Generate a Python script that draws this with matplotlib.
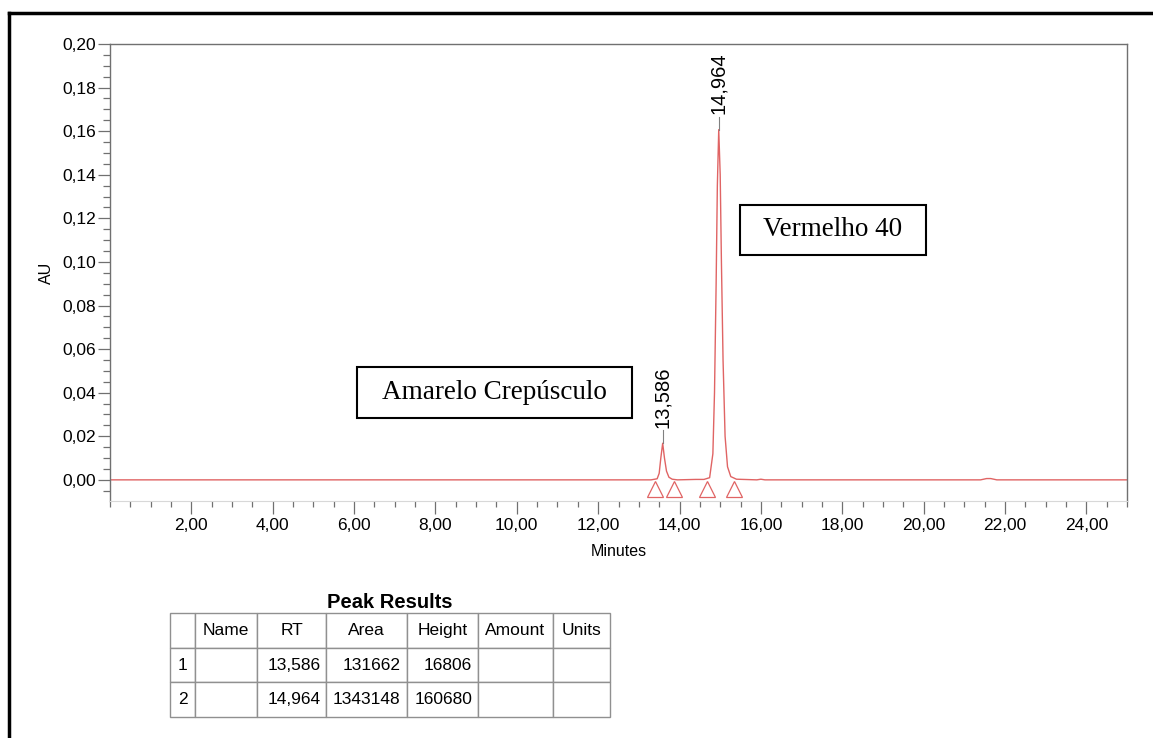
import matplotlib.pyplot as plt
import matplotlib.ticker as ticker
from matplotlib.patches import Rectangle
from matplotlib.lines import Line2D

plt.rcParams['font.family'] = ['Liberation Sans', 'DejaVu Sans']

# chromatogram trace (minutes, AU)
minutes = [0.0, 13.30, 13.45, 13.50, 13.54, 13.586, 13.63, 13.68, 13.74, 13.82, 13.95,
           14.40, 14.60, 14.74, 14.82, 14.86, 14.90, 14.93, 14.964, 15.00, 15.03, 15.07,
           15.12, 15.18, 15.26, 15.40, 15.90, 16.00, 16.10, 21.40, 21.55, 21.65, 21.80, 25.0]
au = [0.0, 0.0, 0.0005, 0.003, 0.010, 0.0168, 0.010, 0.004, 0.0012, 0.0003, 0.0,
      0.0002, 0.0002, 0.001, 0.012, 0.040, 0.090, 0.135, 0.1607, 0.140, 0.100, 0.055,
      0.020, 0.006, 0.0015, 0.0003, 0.0, 0.0003, 0.0, 0.0, 0.0006, 0.0006, 0.0, 0.0]

# peak marks
peak_rt = [13.586, 14.964]
peak_height = [0.0168, 0.1607]
peak_labels = ["13,586", "14,964"]
# integration start/end markers
marker_rt = [13.39, 13.86, 14.68, 15.33]

# peak results table
col_labels = ["", "Name", "RT", "Area", "Height", "Amount", "Units"]
rows = [["1", "", "13,586", "131662", "16806", "", ""],
        ["2", "", "14,964", "1343148", "160680", "", ""]]

W, H = 1153, 738
fig = plt.figure(figsize=(W / 100, H / 100), dpi=100)

# outer frame (left and top only visible)
fig.add_artist(Line2D([9 / W, 9 / W], [0, 1 - 13 / H], color='black', lw=2.5, transform=fig.transFigure))
fig.add_artist(Line2D([9 / W, 1], [1 - 13 / H, 1 - 13 / H], color='black', lw=2.5, transform=fig.transFigure))

ax = fig.add_axes([110 / W, 1 - 501 / H, 1017 / W, 457 / H])
ax.plot(minutes, au, color='#e06464', lw=1.0)
ax.plot(marker_rt, [-0.0041] * len(marker_rt), linestyle='none', marker='^', ms=12,
        mfc='none', mec='#e06464', mew=0.9)

for rt, h, lab in zip(peak_rt, peak_height, peak_labels):
    ax.plot([rt, rt], [h, h + 0.006], color='#808080', lw=0.8)
    ax.text(rt, h + 0.0072, lab, rotation=90, ha='center', va='bottom', fontsize=14.5)

ax.set_xlim(0, 25)
ax.set_ylim(-0.0097, 0.20)

fmt = ticker.FuncFormatter(lambda v, p: f"{v:.2f}".replace('.', ','))
ax.xaxis.set_major_locator(ticker.MultipleLocator(2))
ax.xaxis.set_minor_locator(ticker.MultipleLocator(0.5))
ax.yaxis.set_major_locator(ticker.MultipleLocator(0.02))
ax.yaxis.set_minor_locator(ticker.MultipleLocator(0.005))
ax.xaxis.set_major_formatter(fmt)
ax.yaxis.set_major_formatter(fmt)
ax.set_xticks([t for t in range(2, 25, 2)])

ax.tick_params(axis='both', which='both', direction='out', colors='#707070', labelcolor='black', labelsize=12.5)
ax.tick_params(axis='y', which='major', length=9, width=0.9, pad=1)
ax.tick_params(axis='y', which='minor', length=5, width=0.9)
ax.tick_params(axis='x', which='major', length=9, width=0.9, pad=3)
ax.tick_params(axis='x', which='minor', length=4, width=0.9)

for side in ['left', 'top', 'right']:
    ax.spines[side].set_color('#707070')
    ax.spines[side].set_linewidth(1.0)
ax.spines['bottom'].set_color('#d8d8d8')

ax.set_xlabel("Minutes", fontsize=11.5, labelpad=8)
ax.set_ylabel("AU", fontsize=11.5, labelpad=6)

# annotation boxes
def label_box(x0, y0, x1, y1, txt):
    fig.add_artist(Rectangle((x0 / W, 1 - y1 / H), (x1 - x0) / W, (y1 - y0) / H,
                             fill=False, ec='black', lw=1.5, transform=fig.transFigure))
    fig.text((x0 + x1) / 2 / W, 1 - (y0 + y1) / 2 / H, txt, ha='center', va='center',
             fontsize=19.5, family='Liberation Serif')

label_box(357, 367, 632, 418, "Amarelo Crepúsculo")
label_box(740, 205, 926, 255, "Vermelho 40")

# table
fig.text(390 / W, 1 - 602 / H, "Peak Results", ha='center', va='center', fontsize=14.5, weight='bold')
tax = fig.add_axes([170 / W, 1 - 717 / H, 440 / W, 104 / H])
tax.axis('off')
col_w = [25, 62, 69, 81, 71, 75, 57]
tbl = tax.table(cellText=rows, colLabels=col_labels, colWidths=[c / sum(col_w) for c in col_w],
                bbox=[0, 0, 1, 1], cellLoc='right')
tbl.auto_set_font_size(False)
tbl.set_fontsize(12.5)
for (r, c), cell in tbl.get_celld().items():
    cell.set_edgecolor('#909090')
    cell.set_linewidth(1.0)
    if r == 0 or c == 0:
        cell.get_text().set_ha('center')
    cell.PAD = 0.08

fig.savefig("out.png", dpi=100)
